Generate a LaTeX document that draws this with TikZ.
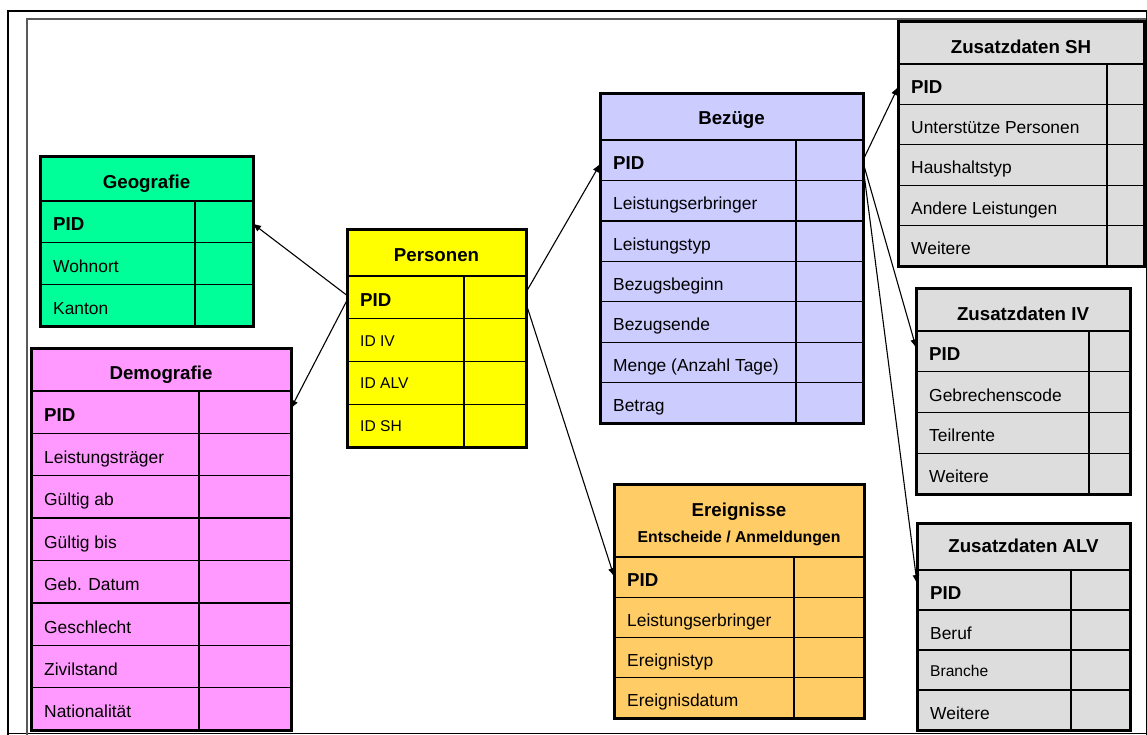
\documentclass[tikz,border=0pt]{standalone}
\usepackage{fontspec}
\setmainfont{Liberation Sans}
\usetikzlibrary{arrows.meta}
\definecolor{geoc}{HTML}{00FF99}
\definecolor{demc}{HTML}{FF99FF}
\definecolor{perc}{HTML}{FFFF00}
\definecolor{bezc}{HTML}{CCCCFF}
\definecolor{erec}{HTML}{FFCC66}
\definecolor{zusc}{HTML}{DDDDDD}
\newcommand\fsf{\fontsize{17.4}{20}\selectfont}
\newcommand\fst{\fontsize{18.7}{22}\selectfont\bfseries}
\newcommand\smf[1]{\raisebox{3pt}{\fontsize{15.6}{18}\selectfont #1}}
\newcommand\pidf{{\fontsize{18.7}{22}\selectfont\bfseries PID}}
\tikzset{
  rowbox/.style={draw=black, line width=1.3pt, rectangle, inner sep=0pt, outer sep=0pt},
  fieldtxt/.style={anchor=base west, inner sep=0pt, font=\fsf},
  titletxt/.style={anchor=base, inner sep=0pt, font=\fst},
  subtxt/.style={anchor=base, inner sep=0pt, font=\fontsize{15.8}{18}\selectfont\bfseries},
  gridline/.style={draw=black, line width=1.3pt},
  tabborder/.style={draw=black, line width=3pt},
  conn/.style={-{Latex[length=9pt,width=7pt]}, line width=1.1pt, black, shorten >=-1pt},
}
\newcommand\dbtable[9]{%
  \foreach \rowtxt [count=\i] in {#9} {\xdef\dbn{\i}}%
  \pgfmathsetmacro\dbbot{#6+\dbn*#8}%
  \pgfmathsetmacro\dbw{#5-#3}%
  \fill[#2] (#3,#4) rectangle (#5,\dbbot);
  \foreach \rowtxt [count=\i] in {#9} {%
    \pgfmathsetmacro\yc{#6+(\i-0.5)*#8}%
    \node[rowbox, minimum width=\dbw pt, minimum height=#8pt] (#1-\i) at ({(#3+#5)/2},\yc) {};
    \node[fieldtxt] (#1-\i-t) at ({#3+13},{\yc+9}) {\rowtxt};
  }
  \draw[gridline] (#7,#6) -- (#7,\dbbot);
  \draw[tabborder] (#3,#4) rectangle (#5,\dbbot);
}
\begin{document}
\begin{tikzpicture}[x=1pt,y=-1pt]
\useasboundingbox (0,0) rectangle (1147,735);
% frame
\draw[line width=1pt] (8,733.5) -- (1146,733.5);
\draw[line width=1pt] (1146,11) -- (1146,735);
\draw[black!65, line width=1.5pt] (27,735) -- (27,19) -- (1146,19);
\draw[line width=2.4pt] (8,735) -- (8,11) -- (1147,11);
% tables
\dbtable{geo}{geoc}{40}{157}{253}{201}{195}{41.67}{\pidf,Wohnort,Kanton}
\node[titletxt] (geo-title) at (146.5,188.5) {Geografie};
\dbtable{dem}{demc}{31}{348}{291}{391}{199}{42.375}{\pidf,Leistungsträger,Gültig ab,Gültig bis,Geb. Datum,Geschlecht,Zivilstand,Nationalität}
\node[titletxt] (dem-title) at (161,379) {Demografie};
\dbtable{per}{perc}{347}{230}{526}{276}{464}{42.75}{\pidf,\smf{ID IV},\smf{ID ALV},\smf{ID SH}}
\node[titletxt] (per-title) at (436.5,261.5) {Personen};
\dbtable{bez}{bezc}{600}{94}{863}{140}{796}{40.43}{\pidf,Leistungserbringer,Leistungstyp,Bezugsbeginn,Bezugsende,Menge (Anzahl Tage),Betrag}
\node[titletxt] (bez-title) at (731.5,125) {Bezüge};
\dbtable{ere}{erec}{614}{484}{864}{557}{794}{40.25}{\pidf,Leistungserbringer,Ereignistyp,Ereignisdatum}
\node[titletxt] (ere-title) at (739,516.5) {Ereignisse};
\node[subtxt] (ere-sub) at (739,542.5) {Entscheide / Anmeldungen};
\dbtable{sh}{zusc}{898}{22}{1144}{64}{1107}{40.4}{\pidf,Unterstütze Personen,Haushaltstyp,Andere Leistungen,Weitere}
\node[titletxt] (sh-title) at (1021,54) {Zusatzdaten SH};
\dbtable{iv}{zusc}{916}{288}{1130}{331}{1089}{40.75}{\pidf,Gebrechenscode,Teilrente,Weitere}
\node[titletxt] (iv-title) at (1023,320) {Zusatzdaten IV};
\dbtable{alv}{zusc}{917}{523}{1130}{570}{1071}{40}{\pidf,Beruf,\smf{Branche},Weitere}
\node[titletxt] (alv-title) at (1023.5,552) {Zusatzdaten ALV};
% connectors
\draw[conn] ([yshift=2pt]per-1.west) -- ([yshift=-2pt]geo-1.east);
\draw[conn] ([yshift=-3pt]per-1.west) -- ([yshift=4pt]dem-1.east);
\draw[conn] ([yshift=5pt]per-1.east) -- ([yshift=-4pt]bez-1.west);
\draw[conn] ([yshift=-6pt]per-1.east) -- ([yshift=1pt]ere-1.west);
\draw[conn] (bez-1.east) -- ([yshift=-3pt]sh-1.west);
\draw[conn] ([yshift=-2pt]bez-1.east) -- ([yshift=4pt]iv-1.west);
\draw[conn] ([yshift=-6pt]bez-1.east) -- ([yshift=7pt]alv-1.west);
\end{tikzpicture}
\end{document}
